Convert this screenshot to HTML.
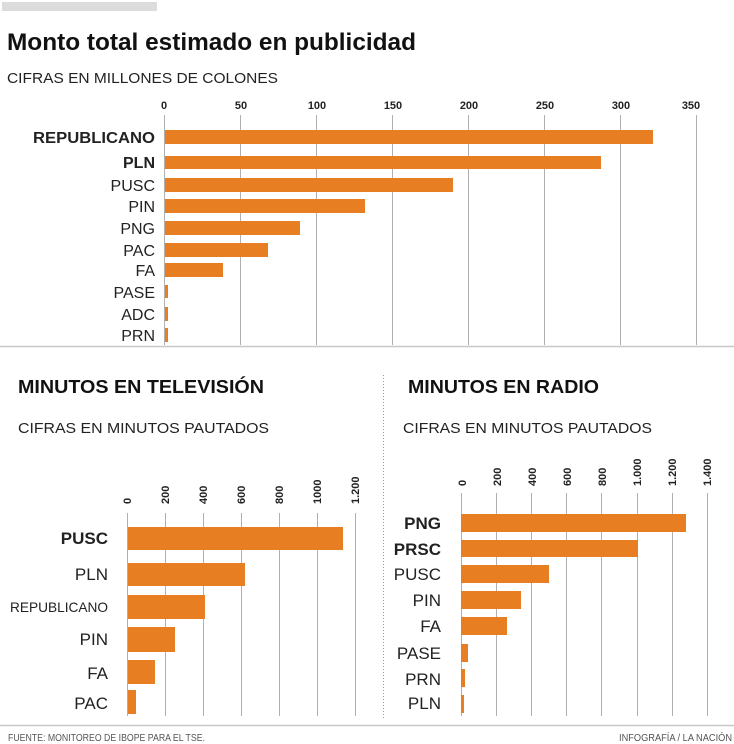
<!DOCTYPE html>
<html><head><meta charset="utf-8"><style>
html,body{margin:0;padding:0;background:#fff;}
svg{display:block;font-family:"Liberation Sans",sans-serif;}
</style></head><body>
<svg width="734" height="744" viewBox="0 0 734 744" xmlns="http://www.w3.org/2000/svg">
<rect x="2" y="2" width="155" height="9" fill="#dcdcdc"/>
<text x="7" y="50" font-size="24" font-weight="bold" fill="#111" textLength="409" lengthAdjust="spacingAndGlyphs">Monto total estimado en publicidad</text>
<text x="7" y="83" font-size="15" fill="#222" textLength="271" lengthAdjust="spacingAndGlyphs">CIFRAS EN MILLONES DE COLONES</text>

<!-- top chart gridlines -->
<g stroke="#b0b0b0" stroke-width="1">
<line x1="164.5" y1="115" x2="164.5" y2="345"/>
<line x1="240.5" y1="115" x2="240.5" y2="345"/>
<line x1="316.5" y1="115" x2="316.5" y2="345"/>
<line x1="392.5" y1="115" x2="392.5" y2="345"/>
<line x1="468.5" y1="115" x2="468.5" y2="345"/>
<line x1="544.5" y1="115" x2="544.5" y2="345"/>
<line x1="620.5" y1="115" x2="620.5" y2="345"/>
<line x1="696.5" y1="115" x2="696.5" y2="345"/>
</g>
<g font-size="11" font-weight="bold" fill="#222" text-anchor="middle">
<text x="164" y="109">0</text><text x="241" y="109">50</text><text x="317" y="109">100</text><text x="393" y="109">150</text><text x="469" y="109">200</text><text x="545" y="109">250</text><text x="621" y="109">300</text><text x="691" y="109">350</text>
</g>
<g fill="#e87e22">
<rect x="165" y="130" width="488" height="14"/>
<rect x="165" y="156" width="436" height="13"/>
<rect x="165" y="178" width="288" height="14"/>
<rect x="165" y="199" width="200" height="14"/>
<rect x="165" y="221" width="135" height="14"/>
<rect x="165" y="243" width="103" height="14"/>
<rect x="165" y="263" width="58" height="14"/>
<rect x="165" y="285" width="3" height="13"/>
<rect x="165" y="307" width="3" height="14"/>
<rect x="165" y="328" width="3" height="14"/>
</g>
<g font-size="16" fill="#222" text-anchor="end">
<text x="155" y="143" font-weight="bold" textLength="122" lengthAdjust="spacingAndGlyphs">REPUBLICANO</text>
<text x="155" y="168" font-weight="bold">PLN</text>
<text x="155" y="191">PUSC</text>
<text x="155" y="212">PIN</text>
<text x="155" y="234">PNG</text>
<text x="155" y="256">PAC</text>
<text x="155" y="276">FA</text>
<text x="155" y="298">PASE</text>
<text x="155" y="320">ADC</text>
<text x="155" y="341">PRN</text>
</g>
<line x1="0" y1="346.5" x2="734" y2="346.5" stroke="#c8c8c8" stroke-width="1.5"/>

<!-- bottom titles -->
<text x="18" y="393" font-size="18" font-weight="bold" fill="#111" textLength="246" lengthAdjust="spacingAndGlyphs">MINUTOS EN TELEVISIÓN</text>
<text x="18" y="433" font-size="15" fill="#222" textLength="251" lengthAdjust="spacingAndGlyphs">CIFRAS EN MINUTOS PAUTADOS</text>
<text x="408" y="393" font-size="18" font-weight="bold" fill="#111" textLength="191" lengthAdjust="spacingAndGlyphs">MINUTOS EN RADIO</text>
<text x="403" y="433" font-size="15" fill="#222" textLength="249" lengthAdjust="spacingAndGlyphs">CIFRAS EN MINUTOS PAUTADOS</text>
<line x1="383.5" y1="375" x2="383.5" y2="718" stroke="#999" stroke-width="1" stroke-dasharray="1,2"/>

<!-- TV chart -->
<g stroke="#b0b0b0" stroke-width="1">
<line x1="127.5" y1="513" x2="127.5" y2="716"/>
<line x1="165.5" y1="513" x2="165.5" y2="716"/>
<line x1="203.5" y1="513" x2="203.5" y2="716"/>
<line x1="241.5" y1="513" x2="241.5" y2="716"/>
<line x1="279.5" y1="513" x2="279.5" y2="716"/>
<line x1="317.5" y1="513" x2="317.5" y2="716"/>
<line x1="355.5" y1="513" x2="355.5" y2="716"/>
</g>
<g font-size="11" font-weight="bold" fill="#222">
<text transform="translate(131,504) rotate(-90)">0</text>
<text transform="translate(169,504) rotate(-90)">200</text>
<text transform="translate(207,504) rotate(-90)">400</text>
<text transform="translate(245,504) rotate(-90)">600</text>
<text transform="translate(283,504) rotate(-90)">800</text>
<text transform="translate(321,504) rotate(-90)">1000</text>
<text transform="translate(359,504) rotate(-90)">1.200</text>
</g>
<g fill="#e87e22">
<rect x="128" y="527" width="215" height="23"/>
<rect x="128" y="563" width="117" height="23"/>
<rect x="128" y="595" width="77" height="24"/>
<rect x="128" y="627" width="47" height="25"/>
<rect x="128" y="660" width="27" height="24"/>
<rect x="128" y="690" width="8" height="24"/>
</g>
<g font-size="17" fill="#222" text-anchor="end">
<text x="108" y="544" font-weight="bold">PUSC</text>
<text x="108" y="580">PLN</text>
<text x="108" y="612" font-size="14" textLength="98" lengthAdjust="spacingAndGlyphs">REPUBLICANO</text>
<text x="108" y="645">PIN</text>
<text x="108" y="679">FA</text>
<text x="108" y="709">PAC</text>
</g>

<!-- Radio chart -->
<g stroke="#b0b0b0" stroke-width="1">
<line x1="461.5" y1="493" x2="461.5" y2="716"/>
<line x1="496.5" y1="493" x2="496.5" y2="716"/>
<line x1="531.5" y1="493" x2="531.5" y2="716"/>
<line x1="566.5" y1="493" x2="566.5" y2="716"/>
<line x1="601.5" y1="493" x2="601.5" y2="716"/>
<line x1="637.5" y1="493" x2="637.5" y2="716"/>
<line x1="672.5" y1="493" x2="672.5" y2="716"/>
<line x1="707.5" y1="493" x2="707.5" y2="716"/>
</g>
<g font-size="11" font-weight="bold" fill="#222">
<text transform="translate(466,486) rotate(-90)">0</text>
<text transform="translate(501,486) rotate(-90)">200</text>
<text transform="translate(536,486) rotate(-90)">400</text>
<text transform="translate(571,486) rotate(-90)">600</text>
<text transform="translate(606,486) rotate(-90)">800</text>
<text transform="translate(641,486) rotate(-90)">1.000</text>
<text transform="translate(676,486) rotate(-90)">1.200</text>
<text transform="translate(711,486) rotate(-90)">1.400</text>
</g>
<g fill="#e87e22">
<rect x="461" y="514" width="225" height="18"/>
<rect x="461" y="540" width="177" height="17"/>
<rect x="461" y="565" width="88" height="18"/>
<rect x="461" y="591" width="60" height="18"/>
<rect x="461" y="617" width="46" height="18"/>
<rect x="461" y="644" width="7" height="18"/>
<rect x="461" y="669" width="4" height="18"/>
<rect x="461" y="695" width="3" height="18"/>
</g>
<g font-size="17" fill="#222" text-anchor="end">
<text x="441" y="529" font-weight="bold">PNG</text>
<text x="441" y="555" font-weight="bold">PRSC</text>
<text x="441" y="580">PUSC</text>
<text x="441" y="606">PIN</text>
<text x="441" y="632">FA</text>
<text x="441" y="659">PASE</text>
<text x="441" y="685">PRN</text>
<text x="441" y="709">PLN</text>
</g>

<line x1="0" y1="725.5" x2="734" y2="725.5" stroke="#c8c8c8" stroke-width="1.5"/>
<text x="8" y="741" font-size="10" fill="#555" textLength="197" lengthAdjust="spacingAndGlyphs">FUENTE: MONITOREO DE IBOPE PARA EL TSE.</text>
<text x="619" y="741" font-size="10" fill="#555" textLength="113" lengthAdjust="spacingAndGlyphs">INFOGRAFÍA / LA NACIÓN</text>
</svg>
</body></html>
